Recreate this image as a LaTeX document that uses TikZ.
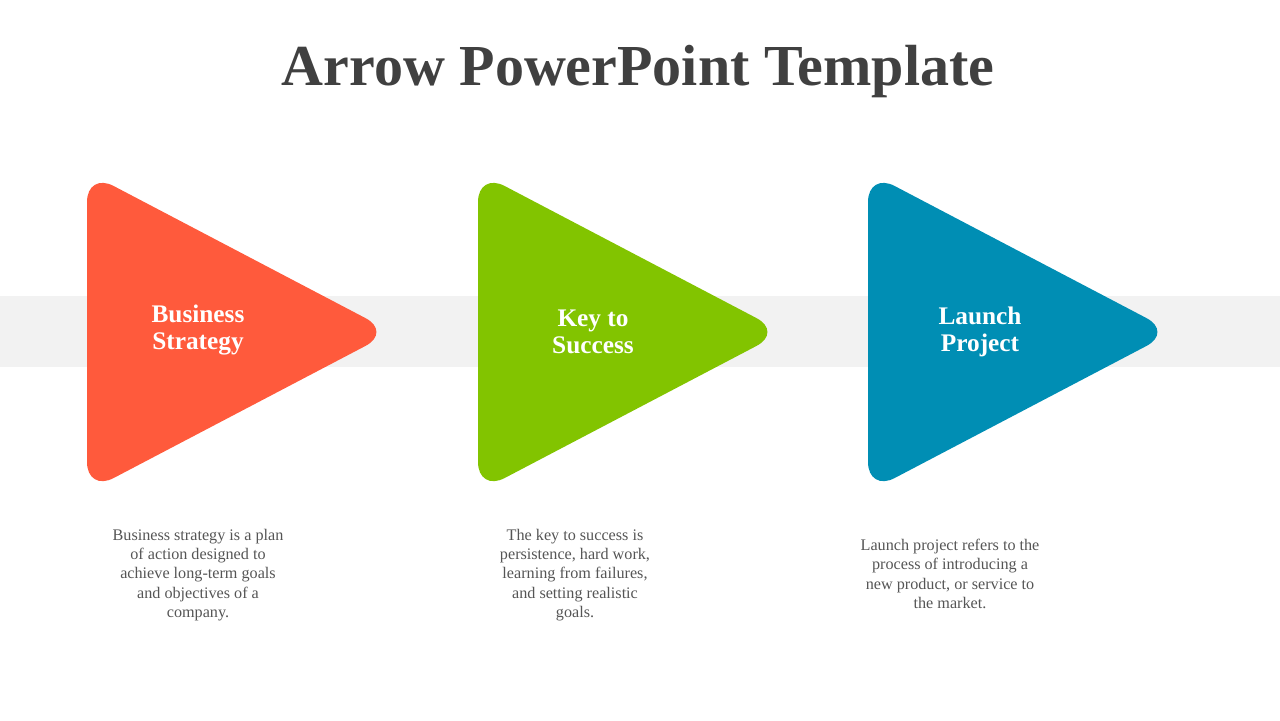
\documentclass[tikz,border=0pt]{standalone}
\usepackage{fontspec}
\setmainfont{Liberation Serif}
\definecolor{titlegray}{HTML}{404040}
\definecolor{bodygray}{HTML}{555555}
\definecolor{bandgray}{HTML}{F2F2F2}
\definecolor{redarrow}{HTML}{FF5A3C}
\definecolor{greenarrow}{HTML}{82C400}
\definecolor{bluearrow}{HTML}{008EB4}
\tikzset{
  arrowshape/.style={rounded corners=0.3cm, draw=none},
  headtext/.style={text=white, font=\fontsize{7.2}{7.8}\selectfont\bfseries, align=center},
  bodytext/.style={text=bodygray, font=\fontsize{4.6}{5.5}\selectfont, align=center}
}
\begin{document}
\begin{tikzpicture}[x=0.01cm, y=-0.01cm]
            \useasboundingbox (0,0) rectangle (1280,720);
            \fill[bandgray] (0,296) rectangle (1280,367);
            \node[text=titlegray, font=\fontsize{16.5}{18}\selectfont\bfseries] (title) at (638,72) {Arrow PowerPoint Template};

            \fill[redarrow, arrowshape] (87,172) -- (392,332) -- (87,492) -- cycle;
            \fill[greenarrow, arrowshape] (478,172) -- (783,332) -- (478,492) -- cycle;
            \fill[bluearrow, arrowshape] (868,172) -- (1173,332) -- (868,492) -- cycle;

            \node[headtext] (business) at (198,330) {Business\\Strategy};
            \node[headtext] (key) at (593,332) {Key to\\Success};
            \node[headtext] (launch) at (980,332) {Launch\\Project};

            \node[bodytext] (businesstext) at (198,575) {Business strategy  is a plan\\of action designed to\\achieve long-term goals\\and objectives of a\\company.};
            \node[bodytext] (keytext) at (575,575) {The key to success is\\persistence, hard work,\\learning from failures,\\and setting realistic\\goals.};
            \node[bodytext] (launchtext) at (950,574) {Launch project refers to the\\process of introducing a\\new product, or service to\\the market.};
        \end{tikzpicture}
\end{document}
